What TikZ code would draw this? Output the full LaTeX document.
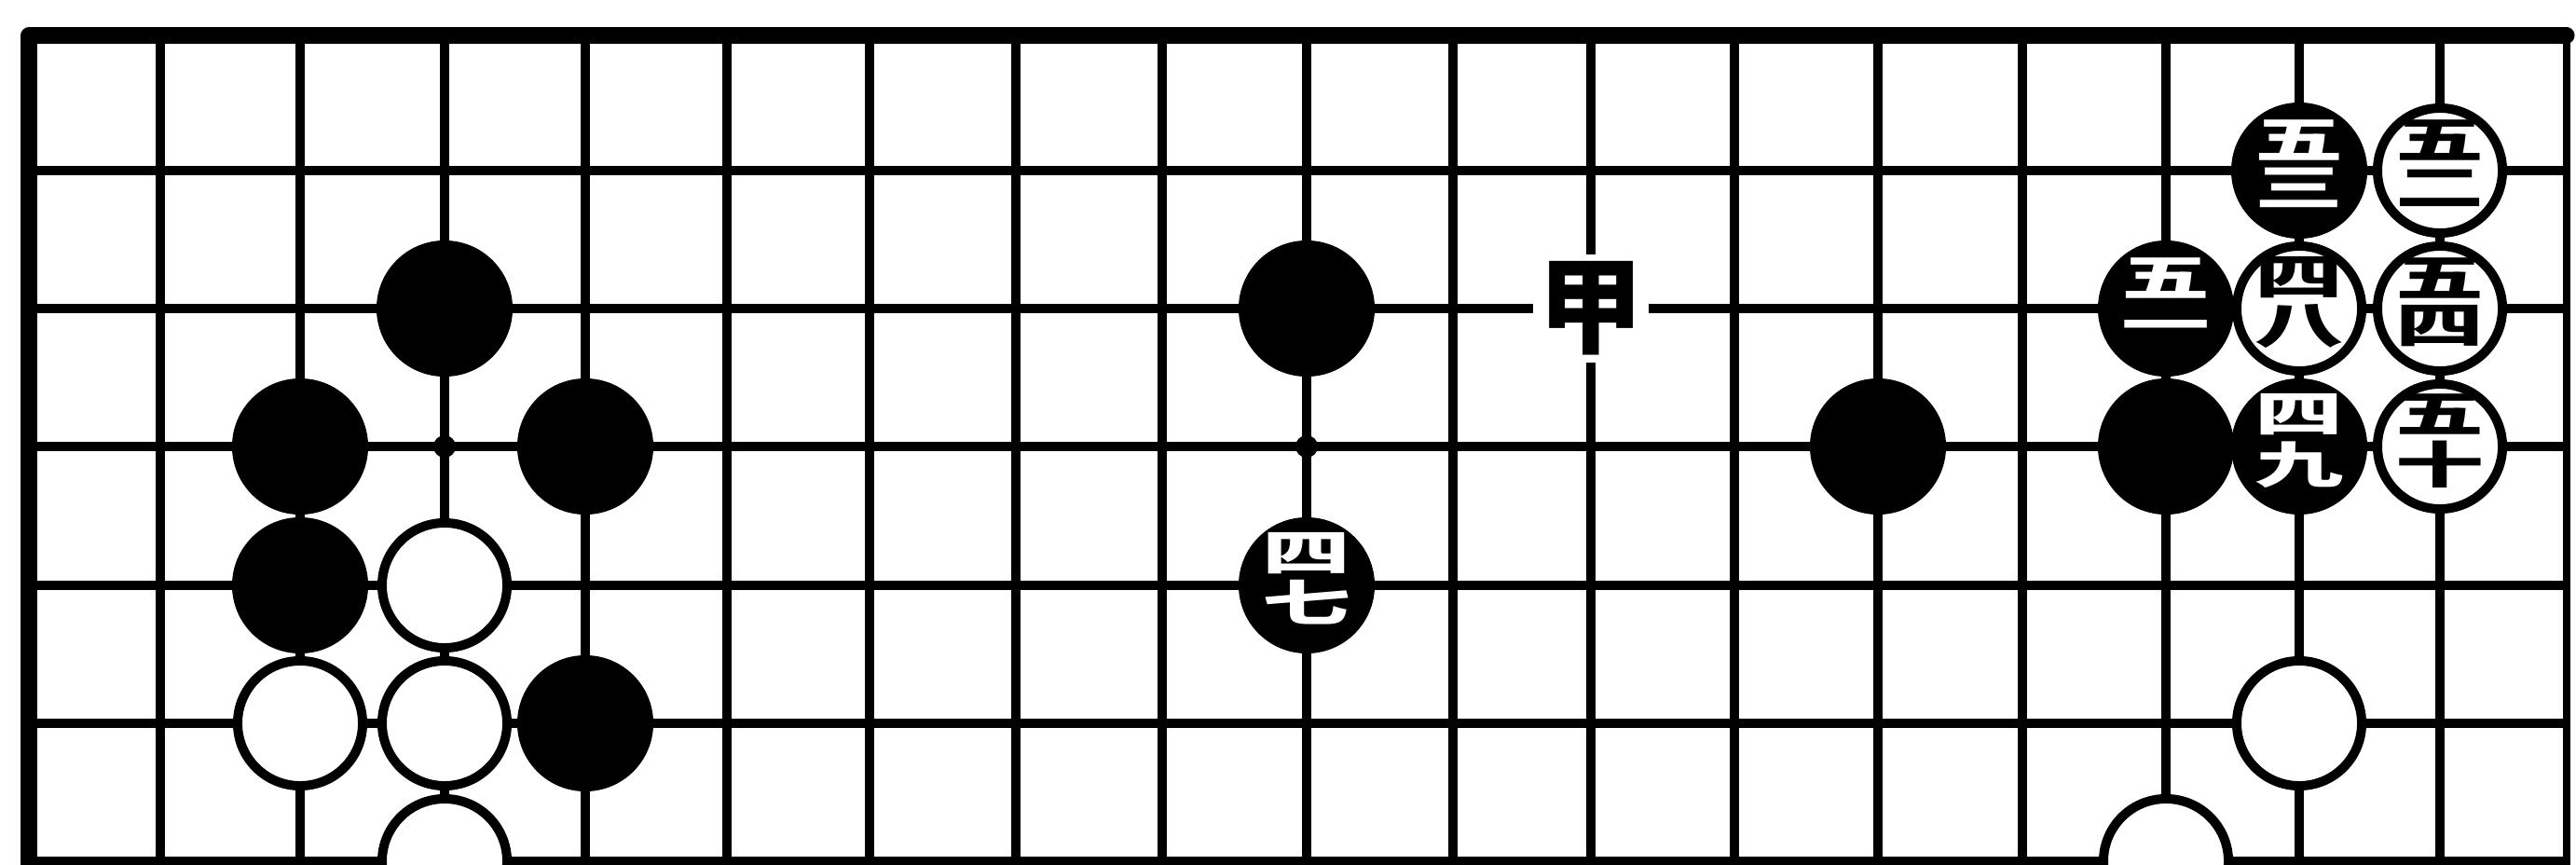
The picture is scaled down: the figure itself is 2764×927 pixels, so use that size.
\documentclass[tikz,border=0pt]{standalone}
\usepackage{fontspec}
\usepackage{graphicx}
\newfontfamily\cjk{Noto Sans CJK SC}
\newcommand\stk[2]{\scalebox{1}[0.56]{\begin{tabular}{@{}c@{}}#1\\[-4pt]#2\end{tabular}}}
\begin{document}
\begin{tikzpicture}[x=0.01cm,y=-0.01cm,
  grid/.style={line width=0.1cm},
  border/.style={line width=0.17cm, line cap=round, line join=round},
  edge/.style={line width=0.08cm},
  bstone/.style={circle, draw=black, fill=black, line width=0.1cm, minimum size=1.36cm, inner sep=0pt},
  wstone/.style={circle, draw=black, fill=white, line width=0.1cm, minimum size=1.34cm, inner sep=0pt},
  numtxt/.style={inner sep=0pt, font=\cjk\bfseries\fontsize{27}{30}\selectfont},
  btxt/.style={numtxt, text=white},
  wtxt/.style={numtxt, text=black},
  starpt/.style={circle, fill=black, minimum size=0.24cm, inner sep=0pt},
  marklbl/.style={fill=white, inner xsep=0.06cm, inner ysep=0.08cm, font=\cjk\bfseries\fontsize{32}{34}\selectfont}
]
\useasboundingbox (0,0) rectangle (2764,927);
\clip (0,0) rectangle (2764,927);
\fill[white] (0,0) rectangle (2764,927);
\foreach \n/\x in {0/31,1/172,2/322,3/477,4/628,5/780,6/933,7/1090,8/1247,9/1402,10/1559,11/1707,12/1861,13/2015,14/2170,15/2324,16/2467,17/2618,18/2754}
  \coordinate (c\n) at (\x,0);
\foreach \n/\y in {0/38,1/183,2/331,3/479,4/628,5/776,6/924}
  \coordinate (r\n) at (0,\y);
\coordinate (bot) at (0,980);
% grid
\foreach \n in {1,...,17} \draw[grid] (c\n |- r0) -- (c\n |- bot);
\foreach \n in {1,...,6} \draw[grid] (c0 |- r\n) -- (c18 |- r\n);
\draw[edge] (c18 |- r0) -- (c18 |- bot);
\draw[border] (c0 |- bot) -- (c0 |- r0) -- (c18 |- r0);
% star points
\node[starpt] (s1) at (c3 |- r3) {};
\node[starpt] (s2) at (c9 |- r3) {};
% left group
\node[bstone] (b1) at (c3 |- r2) {};
\node[bstone] (b2) at (c2 |- r3) {};
\node[bstone] (b3) at (c4 |- r3) {};
\node[bstone] (b4) at (c2 |- r4) {};
\node[wstone] (w1) at (c3 |- r4) {};
\node[wstone] (w2) at (c2 |- r5) {};
\node[wstone] (w3) at (c3 |- r5) {};
\node[bstone] (b5) at (c4 |- r5) {};
\node[wstone] (w4) at (c3 |- r6) {};
% middle
\node[bstone] (b6) at (c9 |- r2) {};
\node[bstone] (m47) at (c9 |- r4) {};
\node[btxt] (t47) at (m47) {\stk{四}{七}};
\node[marklbl] (jia) at (c11 |- r2) {甲};
\node[bstone] (b7) at (c13 |- r3) {};
% right group
\node[bstone] (b8) at (c15 |- r3) {};
\node[wstone] (w5) at (c16 |- r5) {};
\node[wstone] (w6) at (c15 |- r6) {};
\node[bstone] (m49) at (c16 |- r3) {};
\node[btxt] (t49) at (m49) {\stk{四}{九}};
\node[bstone] (m51) at (c15 |- r2) {};
\node[btxt] (t51) at (m51) {\stk{五}{一}};
\node[bstone] (m53) at (c16 |- r1) {};
\node[btxt] (t53) at (m53) {\stk{五}{三}};
\node[wstone] (m48) at (c16 |- r2) {};
\node[wtxt] (t48) at (m48) {\stk{四}{八}};
\node[wstone] (m50) at (c17 |- r3) {};
\node[wtxt] (t50) at (m50) {\stk{五}{十}};
\node[wstone] (m52) at (c17 |- r1) {};
\node[wtxt] (t52) at (m52) {\stk{五}{二}};
\node[wstone] (m54) at (c17 |- r2) {};
\node[wtxt] (t54) at (m54) {\stk{五}{四}};
\end{tikzpicture}
\end{document}
